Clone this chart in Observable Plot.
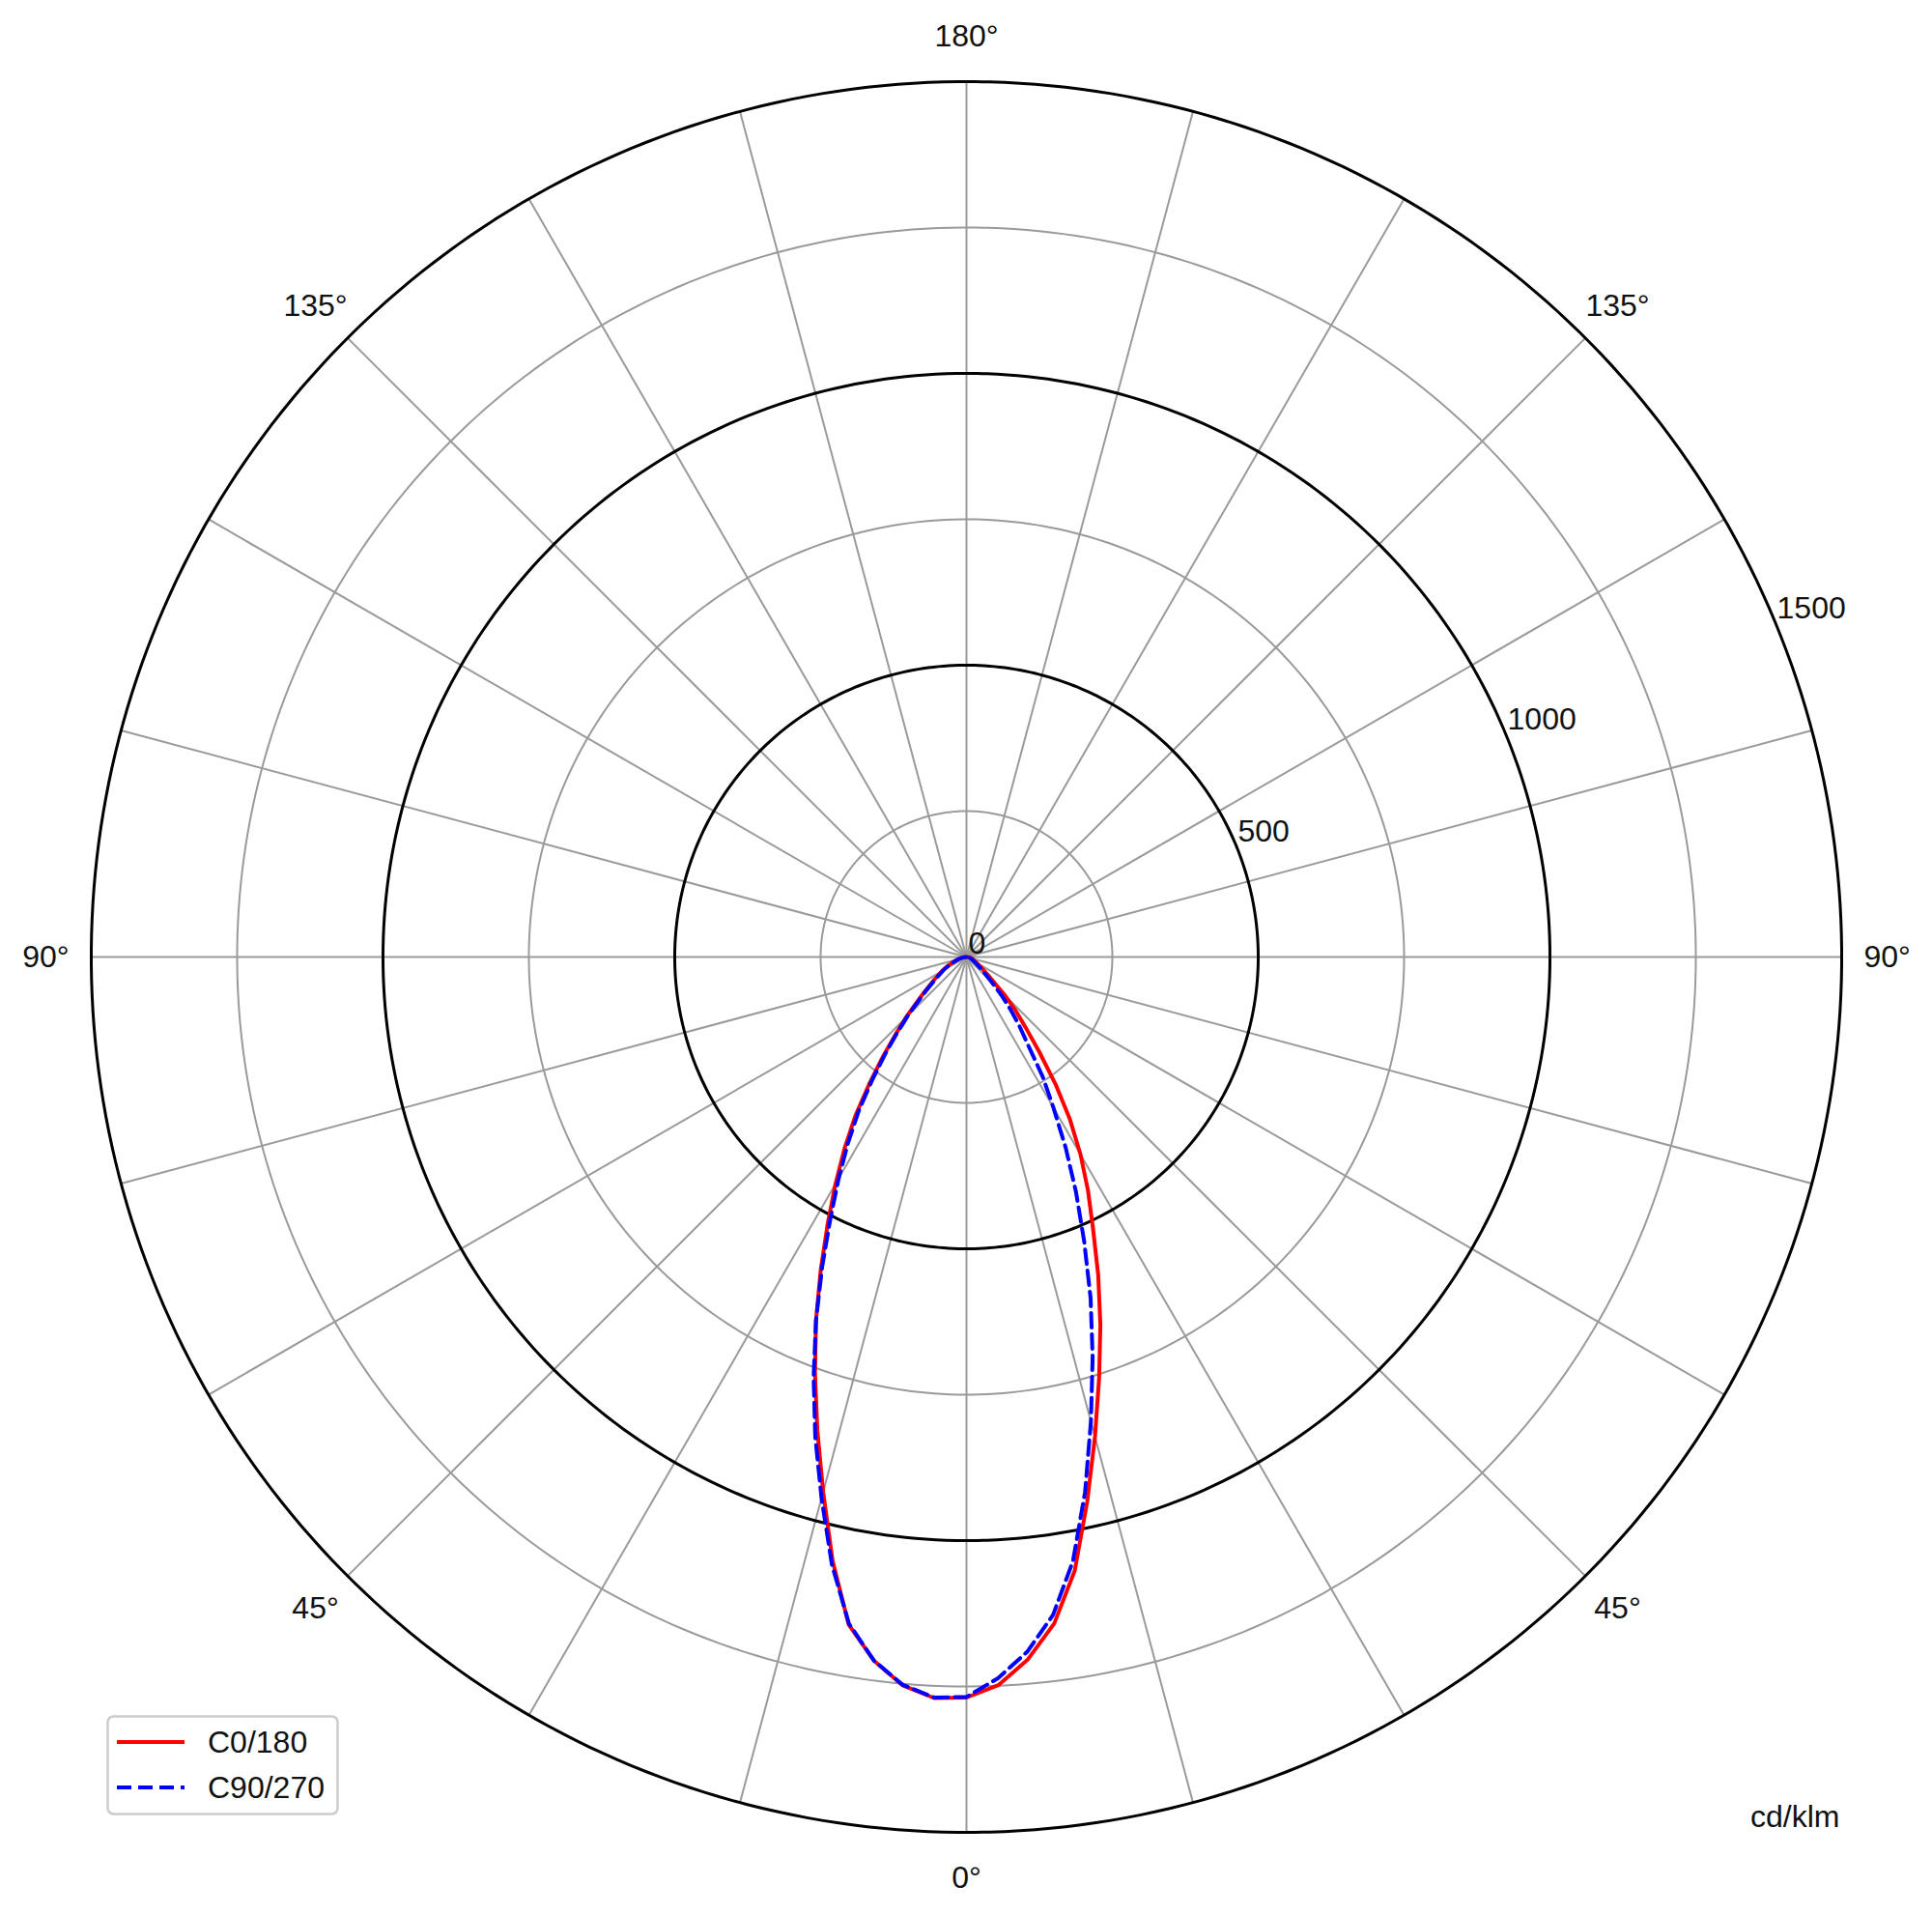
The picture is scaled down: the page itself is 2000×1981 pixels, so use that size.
<!DOCTYPE html>
<html>
<head>
<meta charset="utf-8">
<script src="https://cdn.jsdelivr.net/npm/d3@7"></script>
<script src="https://cdn.jsdelivr.net/npm/@observablehq/plot@0.6"></script>
<style>
  body { margin: 0; background: #fff; font-family: "Liberation Sans", Arial, sans-serif; }
  #chart { position: relative; width: 2000px; height: 1981px; }
  #legend { position: absolute; left: 110px; top: 1775px; }
</style>
</head>
<body>
<div id="chart"><div id="legend"></div></div>
<script>
// gamma angles (deg from nadir) and intensities in cd/klm
const gamma = [0, 2.5, 5, 7.5, 10, 12.5, 15, 17.5, 20, 22.5, 25, 27.5, 30, 32.5, 35, 37.5, 40, 42.5, 45, 50, 55, 60, 65, 70, 75, 80, 85, 90];
const c0   = [1269, 1249, 1208, 1152, 1068, 956, 851, 756, 671, 590, 513, 451, 391, 330, 266, 205, 158, 125, 94, 48, 30, 20, 15, 12, 10, 7, 4, 0];
const c180 = [1269, 1271, 1253, 1216, 1162, 1060, 949, 850, 759, 674, 591, 515, 449, 389, 332, 273, 223, 180, 147, 96, 67, 49, 35, 22, 15, 9, 4, 0];
const c90  = [1268, 1237, 1195, 1137, 1051, 939, 824, 719, 622, 527, 444, 368, 298, 243, 184, 149, 117, 88, 62, 35, 22, 15, 11, 8, 6, 4, 2, 0];
const c270 = [1268, 1270, 1252, 1216, 1160, 1066, 960, 862, 766, 674, 585, 505, 438, 378, 322, 265, 216, 175, 142, 92, 63, 46, 33, 21, 14, 8, 4, 0];

const planeNames = ["C0/180", "C90/270"];
const planeColors = ["red", "blue"];
const planeDashes = [null, "15,7"];

const minorRings = [250, 750, 1250];
const majorRings = [500, 1000, 1500];
const rTickValues = [0, 500, 1000, 1500];
const spokeAngles = d3.range(0, 360, 15);
const angleTickLons = [0, 45, 90, 135, 180, -135, -90, -45];
const angleTickText = ["0°", "45°", "90°", "135°", "180°", "135°", "90°", "45°"];

const R_MAX = 1500;
const R_SCALE = 1000; // cd/klm per degree of arc on the projection
const lat = (r) => 90 - r / R_SCALE;

// one path per plane: left half (negative lon) then right half
function planePoints(name, left, right) {
  const pts = [];
  for (let i = gamma.length - 1; i >= 0; i--) pts.push({plane: name, lon: -gamma[i], lat: lat(left[i])});
  for (let i = 1; i < gamma.length; i++) pts.push({plane: name, lon: gamma[i], lat: lat(right[i])});
  return pts;
}
const plane1 = planePoints(planeNames[0], c180, c0);
const plane2 = planePoints(planeNames[1], c270, c90);

const ring = (r) => d3.geoCircle().center([0, 90]).radius(r / R_SCALE).precision(1)();

const chart = Plot.plot({
  width: 2000,
  height: 1981,
  marginLeft: 94,
  marginRight: 94,
  marginTop: 84,
  marginBottom: 85,
  style: {fontFamily: "'Liberation Sans', Arial, sans-serif", fontSize: "32px", color: "#111"},
  projection: {
    type: "azimuthal-equidistant",
    rotate: [0, -90],
    domain: ring(R_MAX),
    clip: false
  },
  marks: [
    Plot.link(spokeAngles, {x1: (d) => d, y1: 90, x2: (d) => d, y2: lat(R_MAX), stroke: "#9a9a9a", strokeWidth: 2}),
    Plot.geo(minorRings, {geometry: ring, fill: "none", stroke: "#9a9a9a", strokeWidth: 2}),
    Plot.geo(majorRings, {geometry: ring, fill: "none", stroke: "black", strokeWidth: 3}),
    Plot.line(plane1, {x: "lon", y: "lat", stroke: planeColors[0], strokeWidth: 4}),
    Plot.line(plane2, {x: "lon", y: "lat", stroke: planeColors[1], strokeWidth: 4, strokeDasharray: planeDashes[1]}),
    Plot.text(rTickValues, {x: 112.5, y: (d) => lat(d), text: (d) => String(d), textAnchor: "start", lineAnchor: "bottom", fontSize: 32, dx: 2, dy: -4}),
    Plot.text(angleTickLons, {x: (d) => d, y: lat(R_MAX * 1.052), text: (d, i) => angleTickText[i], fontSize: 32}),
    Plot.text(["cd/klm"], {frameAnchor: "bottom-right", textAnchor: "end", lineAnchor: "bottom", fontSize: 32, dx: -2, dy: -6})
  ]
});
document.getElementById("chart").prepend(chart);

// legend box in the lower-left corner
const lg = d3.select("#legend").append("svg").attr("width", 242).attr("height", 105);
lg.append("rect").attr("x", 1.5).attr("y", 1.5).attr("width", 238).attr("height", 101).attr("rx", 6)
  .attr("fill", "white").attr("stroke", "#cccccc").attr("stroke-width", 2.5);
planeNames.forEach((name, i) => {
  const y = 28 + i * 47;
  lg.append("line").attr("x1", 11).attr("x2", 81).attr("y1", y).attr("y2", y)
    .attr("stroke", planeColors[i]).attr("stroke-width", 4).attr("stroke-dasharray", planeDashes[i]);
  lg.append("text").attr("x", 105).attr("y", y).attr("dy", "0.35em")
    .attr("font-family", "'Liberation Sans', Arial, sans-serif").attr("font-size", 32).attr("fill", "#111").text(name);
});
</script>
</body>
</html>
